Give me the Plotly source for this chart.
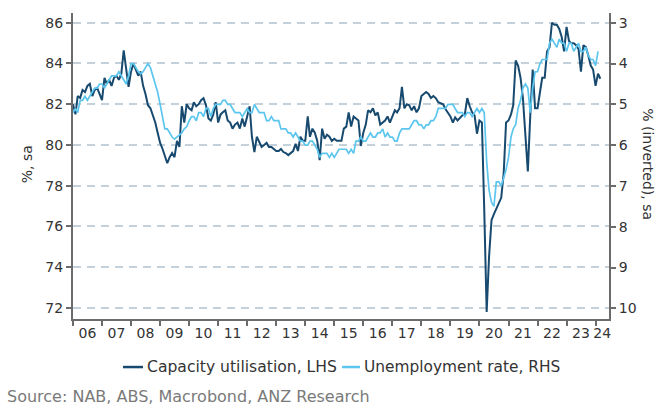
import pandas as pd
import plotly.graph_objects as go

# Capacity utilisation (LHS), monthly from Jan 2006
capacity = [
    82.0, 81.5, 82.4, 82.3, 82.7, 82.6, 82.9, 83.0, 82.4, 82.7, 82.8, 82.5,   # 2006
    82.2, 83.3, 83.0, 83.2, 82.9, 83.3, 83.4, 83.2, 83.5, 84.65, 83.7, 82.85, # 2007
    83.6, 84.0, 83.7, 83.4, 83.6, 82.9, 82.5, 81.95, 81.8, 81.45, 81.1, 80.6, # 2008
    80.1, 79.8, 79.5, 79.1, 79.4, 79.6, 79.4, 80.2, 79.9, 81.9, 81.1, 82.0,   # 2009
    81.8, 81.7, 82.1, 81.9, 82.0, 82.2, 82.3, 81.95, 81.3, 81.2, 81.5, 82.1,  # 2010
    81.1, 81.5, 81.6, 81.7, 81.2, 81.1, 80.8, 81.0, 81.1, 80.8, 81.3, 80.9,   # 2011
    81.4, 81.9, 80.4, 79.65, 80.4, 80.1, 79.9, 80.0, 80.1, 79.9, 79.9, 79.8,  # 2012
    79.7, 79.7, 79.8, 79.65, 79.6, 79.5, 79.6, 79.7, 80.05, 79.7, 80.4, 80.2, # 2013
    80.2, 81.4, 80.4, 80.8, 80.6, 80.2, 79.25, 80.8, 80.3, 80.5, 80.4, 80.2,  # 2014
    80.3, 80.2, 80.2, 80.2, 80.8, 80.9, 81.6, 80.9, 81.4, 81.3, 81.2, 79.95,  # 2015
    80.6, 81.0, 81.7, 81.6, 81.8, 81.45, 81.6, 81.0, 81.1, 81.2, 81.4, 81.1,  # 2016
    81.4, 81.7, 81.6, 81.8, 82.85, 81.8, 82.0, 81.95, 81.7, 81.9, 81.6, 81.8, # 2017
    82.4, 82.5, 82.6, 82.5, 82.3, 82.4, 82.3, 82.1, 82.05, 82.0, 81.75, 81.6, # 2018
    81.4, 81.1, 81.35, 81.2, 81.3, 81.45, 81.5, 82.3, 81.9, 81.6, 81.45, 80.55, # 2019
    81.2, 81.1, 76.9, 71.8, 74.5, 76.3, 76.6, 76.9, 77.2, 77.4, 78.6, 81.1,   # 2020
    81.2, 81.5, 81.95, 84.15, 83.9, 83.3, 82.3, 80.5, 78.7, 81.4, 83.7, 81.8, # 2021
    81.8, 82.6, 83.3, 83.3, 84.6, 84.8, 86.0, 85.9, 85.9, 85.7, 85.3, 84.6,   # 2022
    85.8, 85.1, 85.0, 85.0, 84.9, 84.7, 83.6, 84.9, 84.8, 84.4, 83.9, 83.7,   # 2023
    82.9, 83.5, 83.25,                                                        # 2024
]

# Unemployment rate (RHS, inverted), monthly from Jan 2006
unemployment = [
    5.2, 5.1, 5.2, 4.9, 4.9, 4.8, 4.9, 4.8, 4.7, 4.6, 4.6, 4.5,   # 2006
    4.5, 4.6, 4.5, 4.4, 4.3, 4.3, 4.3, 4.2, 4.3, 4.4, 4.5, 4.3,   # 2007
    4.0, 4.0, 4.1, 4.2, 4.25, 4.2, 4.1, 4.0, 4.1, 4.3, 4.5, 4.7,  # 2008
    5.0, 5.3, 5.6, 5.6, 5.7, 5.8, 5.85, 5.8, 5.75, 5.7, 5.6, 5.55, # 2009
    5.4, 5.3, 5.3, 5.4, 5.2, 5.2, 5.3, 5.1, 5.1, 5.3, 5.1, 5.0,   # 2010
    5.0, 5.0, 4.9, 4.9, 5.0, 5.0, 5.1, 5.2, 5.2, 5.2, 5.3, 5.2,   # 2011
    5.1, 5.2, 5.2, 5.0, 5.1, 5.2, 5.2, 5.2, 5.4, 5.4, 5.3, 5.4,   # 2012
    5.4, 5.4, 5.6, 5.6, 5.6, 5.7, 5.7, 5.8, 5.7, 5.8, 5.9, 5.9,   # 2013
    6.0, 6.0, 5.9, 5.9, 6.0, 6.1, 6.3, 6.2, 6.2, 6.2, 6.3, 6.2,   # 2014
    6.3, 6.2, 6.1, 6.1, 6.1, 6.1, 6.2, 6.1, 6.2, 5.9, 5.9, 5.8,   # 2015
    5.9, 5.9, 5.8, 5.7, 5.8, 5.8, 5.7, 5.7, 5.6, 5.8, 5.7, 5.8,   # 2016
    5.8, 5.9, 5.9, 5.7, 5.6, 5.6, 5.6, 5.6, 5.5, 5.4, 5.4, 5.5,   # 2017
    5.5, 5.6, 5.5, 5.5, 5.4, 5.4, 5.3, 5.1, 5.1, 5.1, 5.1, 5.0,   # 2018
    5.0, 5.0, 5.1, 5.2, 5.2, 5.2, 5.3, 5.2, 5.2, 5.3, 5.2, 5.1,   # 2019
    5.2, 5.1, 5.2, 6.4, 7.1, 7.4, 7.5, 6.9, 6.9, 7.0, 6.8, 6.6,   # 2020
    6.3, 5.8, 5.6, 5.5, 5.1, 4.9, 4.6, 4.5, 4.6, 5.2, 4.6, 4.2,   # 2021
    4.2, 4.0, 3.9, 3.9, 3.9, 3.5, 3.4, 3.5, 3.6, 3.4, 3.5, 3.5,   # 2022
    3.7, 3.5, 3.5, 3.7, 3.6, 3.5, 3.7, 3.7, 3.6, 3.8, 3.9, 3.9,   # 2023
    4.05, 3.7,                                                    # 2024
]

year_labels = ["06", "07", "08", "09", "10", "11", "12", "13", "14", "15",
               "16", "17", "18", "19", "20", "21", "22", "23", "24"]
left_ticks = [72, 74, 76, 78, 80, 82, 84, 86]
right_ticks = [3, 4, 5, 6, 7, 8, 9, 10]

cap_dates = pd.date_range("2006-01-01", periods=len(capacity), freq="MS")
ur_dates = pd.date_range("2006-01-01", periods=len(unemployment), freq="MS")

label_pos = [f"{2006 + i}-07-01" for i in range(len(year_labels) - 1)] + ["2024-03-25"]
year_starts = [f"{2006 + i}-01-01" for i in range(len(year_labels))]

DARK = "#174a6e"
LIGHT = "#5cc6ee"
TEXT = "#333333"
AXIS = "#6b6b6b"
GRID = "#c5d1da"
FONT = "DejaVu Sans"

fig = go.Figure()
fig.add_trace(go.Scatter(x=ur_dates, y=unemployment, yaxis="y2", mode="lines",
                         line=dict(color=LIGHT, width=1.7),
                         name="Unemployment rate, RHS", showlegend=False))
fig.add_trace(go.Scatter(x=cap_dates, y=capacity, mode="lines",
                         line=dict(color=DARK, width=2),
                         name="Capacity utilisation, LHS", showlegend=False))

fig.update_layout(
    width=671, height=405,
    margin=dict(l=73, r=62, t=13, b=86),
    paper_bgcolor="white", plot_bgcolor="white",
    font=dict(family=FONT, size=14, color=TEXT),
    xaxis=dict(
        type="date", range=["2006-01-01", "2024-06-18"],
        tickmode="array", tickvals=label_pos, ticktext=year_labels,
        ticks="", showgrid=False, showline=True, linecolor=AXIS, linewidth=2,
        tickfont=dict(size=14, color=TEXT),
        minor=dict(tickmode="array", tickvals=year_starts, ticks="outside",
                   ticklen=5, tickwidth=1.5, tickcolor=AXIS, showgrid=False),
        zeroline=False,
    ),
    yaxis=dict(
        range=[71.45, 86.48], tickmode="array", tickvals=left_ticks,
        ticks="outside", ticklen=5, tickwidth=1.5, tickcolor=AXIS,
        showline=True, linecolor=AXIS, linewidth=2,
        showgrid=True, gridcolor=GRID, gridwidth=1.5, griddash="8px,6px",
        zeroline=False, tickfont=dict(size=14, color=TEXT),
    ),
    yaxis2=dict(
        range=[10.26, 2.76], overlaying="y", side="right",
        tickmode="array", tickvals=right_ticks,
        ticks="outside", ticklen=5, tickwidth=1.5, tickcolor=AXIS,
        showline=True, linecolor=AXIS, linewidth=2,
        showgrid=False, zeroline=False, tickfont=dict(size=14, color=TEXT),
    ),
)

# axis titles
fig.add_annotation(text="%, sa", xref="paper", yref="paper", x=-0.103, y=0.505,
                   textangle=-90, showarrow=False, font=dict(size=14, color=TEXT))
fig.add_annotation(text="% (inverted), sa", xref="paper", yref="paper", x=1.09, y=0.505,
                   textangle=90, showarrow=False, font=dict(size=14, color=TEXT))

# legend
fig.add_shape(type="line", xref="paper", yref="paper", x0=0.0933, x1=0.1306,
              y0=-0.157, y1=-0.157, line=dict(color=DARK, width=2.5))
fig.add_annotation(text="Capacity utilisation, LHS", xref="paper", yref="paper",
                   x=0.1343, y=-0.157, xanchor="left", yanchor="middle",
                   showarrow=False, font=dict(size=15.6, color=TEXT))
fig.add_shape(type="line", xref="paper", yref="paper", x0=0.502, x1=0.5354,
              y0=-0.157, y1=-0.157, line=dict(color=LIGHT, width=2.5))
fig.add_annotation(text="Unemployment rate, RHS", xref="paper", yref="paper",
                   x=0.539, y=-0.157, xanchor="left", yanchor="middle",
                   showarrow=False, font=dict(size=15.4, color=TEXT))

# source
fig.add_annotation(text="Source: NAB, ABS, Macrobond, ANZ Research", xref="paper", yref="paper",
                   x=-0.127, y=-0.252, xanchor="left", yanchor="middle",
                   showarrow=False, font=dict(size=16, color="#7a7a7a"))

fig.write_html("out.html", config={"displayModeBar": False},
               post_script="document.body.style.margin='0';")
